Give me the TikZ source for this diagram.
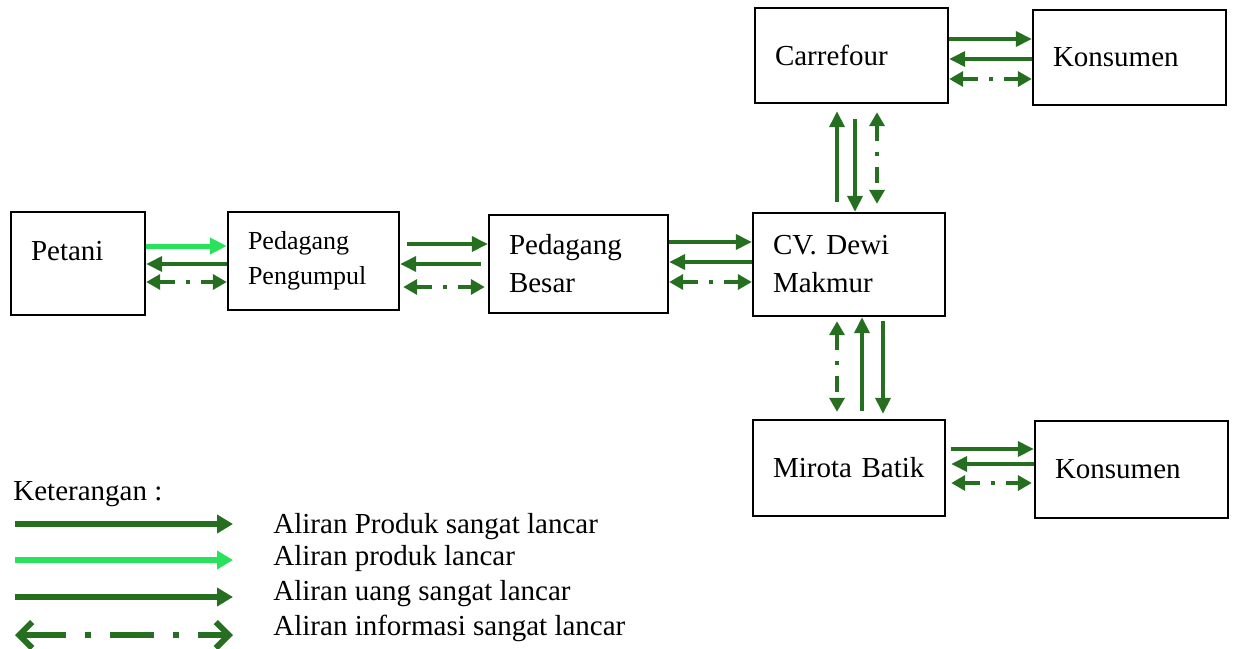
\documentclass[tikz,border=0pt]{standalone}
\usepackage{fontspec}
\setmainfont{Liberation Serif}
\usepackage{tikz}
\usetikzlibrary{arrows.meta,positioning,calc}
\definecolor{hijau}{RGB}{38,110,32}
\definecolor{hijaumuda}{RGB}{41,226,92}
\tikzset{
  kotak/.style    ={draw,line width=1.2pt,align=left,inner xsep=10pt,
                    font=\fontsize{14.5}{19}\selectfont},
  kotakkecil/.style={kotak,font=\fontsize{13}{17.5}\selectfont},
  teks/.style     ={inner sep=0pt,font=\fontsize{14.5}{19}\selectfont},
  produk/.style   ={-{Triangle[length=8pt,width=7.5pt]},line width=1.8pt,hijau},
  produkmuda/.style={-{Triangle[length=8.5pt,width=8pt]},line width=2.5pt,hijaumuda},
  info/.style     ={{Triangle[length=7pt,width=7.5pt]}-{Triangle[length=7pt,width=7.5pt]},
                    line width=1.8pt,hijau,dash pattern=on 8pt off 5.5pt on 2pt off 5.5pt},
  legproduk/.style={-{Triangle[length=8pt,width=9pt]},line width=3pt,hijau},
  legmuda/.style  ={-{Triangle[length=8pt,width=9pt]},line width=3pt,hijaumuda},
  leginfo/.style  ={{Straight Barb[length=6.5pt,width=13pt]}-{Straight Barb[length=6.5pt,width=13pt]},
                    line width=3pt,hijau,dash pattern=on 22pt off 9.5pt on 3pt off 9.5pt},
}

\begin{document}
\begin{tikzpicture}[x=0.5pt,y=-0.5pt]
\useasboundingbox (0,0) rectangle (1234,648);

% --- rantai pasok -----------------------------------------------------------
\node[kotak,text width=47pt,minimum height=51.5pt,text depth=13pt] (pt) at (78,263.5) {Petani};
\node[kotakkecil,text width=65.5pt,minimum height=49pt] (pp) at (313.5,261) {Pedagang\\ Pengumpul};
\node[kotak,text width=69.5pt,minimum height=49pt] (pb) at (578.5,264) {Pedagang\\ Besar};
\node[kotak,text width=76pt,minimum height=51.5pt] (cv) at (849,264.5) {CV. Dewi\\ Makmur};
\node[kotak,text width=76.5pt,minimum height=47.5pt] (cf) at (851.5,55.5) {Carrefour};
\node[kotak,text width=76.5pt,minimum height=47.5pt] (k1) at (1129.5,57.5) {Konsumen};
\node[kotak,text width=76pt,minimum height=48pt] (mb) at (849,468) {Mirota Batik};
\node[kotak,text width=76.5pt,minimum height=48.5pt] (k2) at (1131.5,469.5) {Konsumen};

% --- petani ke pengumpul ------------------------------------------------------
\draw[produkmuda] (pt.east|-0,246) -- (pp.west|-0,246);
\draw[produk] (pp.west|-0,264) -- (pt.east|-0,264);
\draw[info] (pt.east|-0,282) -- (pp.west|-0,282);

% --- pengumpul ke pedagang besar ---------------------------------------------
\draw[produk,shorten <=3.5pt] (pp.east|-0,244) -- (pb.west|-0,244);
\draw[produk,shorten <=3.5pt] (pb.west|-0,264) -- (pp.east|-0,264);
\draw[info,shorten <=1.5pt,shorten >=1.5pt] (pp.east|-0,287) -- (pb.west|-0,287);

% --- pedagang besar ke CV -----------------------------------------------------
\draw[produk] (pb.east|-0,242) -- (cv.west|-0,242);
\draw[produk] (cv.west|-0,262) -- (pb.east|-0,262);
\draw[info] (pb.east|-0,282) -- (cv.west|-0,282);

% --- CV ke Carrefour ----------------------------------------------------------
\draw[produk,shorten <=5pt,shorten >=3.5pt] (cv.north-|837,0) -- (cf.south-|837,0);
\draw[produk,shorten <=7.5pt] (cf.south-|855,0) -- (cv.north-|855,0);
\draw[info,shorten <=4pt,shorten >=4pt] (cf.south-|877,0) -- (cv.north-|877,0);

% --- CV ke Mirota -------------------------------------------------------------
\draw[info,shorten <=2pt,shorten >=3.5pt] (cv.south-|837,0) -- (mb.north-|837,0);
\draw[produk,shorten <=4pt] (mb.north-|862,0) -- (cv.south-|862,0);
\draw[produk,shorten <=2pt,shorten >=2.5pt] (cv.south-|883,0) -- (mb.north-|883,0);

% --- ke konsumen --------------------------------------------------------------
\draw[produk] (cf.east|-0,39) -- (k1.west|-0,39);
\draw[produk] (k1.west|-0,59) -- (cf.east|-0,59);
\draw[info] (cf.east|-0,79) -- (k1.west|-0,79);
\draw[produk,shorten <=2.5pt] (mb.east|-0,449) -- (k2.west|-0,449);
\draw[produk,shorten >=2.5pt] (k2.west|-0,464) -- (mb.east|-0,464);
\draw[info,shorten <=2.5pt,shorten >=1pt] (mb.east|-0,483) -- (k2.west|-0,483);

% --- keterangan ---------------------------------------------------------------
\node[teks,anchor=base west] (ket) at (13,500) {Keterangan :};
\coordinate (a1) at (15,524); \coordinate (b1) at (233,524);
\coordinate (a2) at (15,560); \coordinate (b2) at (233,560);
\coordinate (a3) at (15,597); \coordinate (b3) at (233,597);
\coordinate (a4) at (15,635); \coordinate (b4) at (233,635);
\draw[legproduk] (a1) -- (b1);
\draw[legmuda] (a2) -- (b2);
\draw[legproduk] (a3) -- (b3);
\draw[leginfo] (a4) -- (b4);
\node[teks,anchor=base west] (t1) at (273,533) {Aliran Produk sangat lancar};
\node[teks,anchor=base west] (t2) at (273,565) {Aliran produk lancar};
\node[teks,anchor=base west] (t3) at (273,600) {Aliran uang sangat lancar};
\node[teks,anchor=base west] (t4) at (273,635) {Aliran informasi sangat lancar};

\end{tikzpicture}
\end{document}
